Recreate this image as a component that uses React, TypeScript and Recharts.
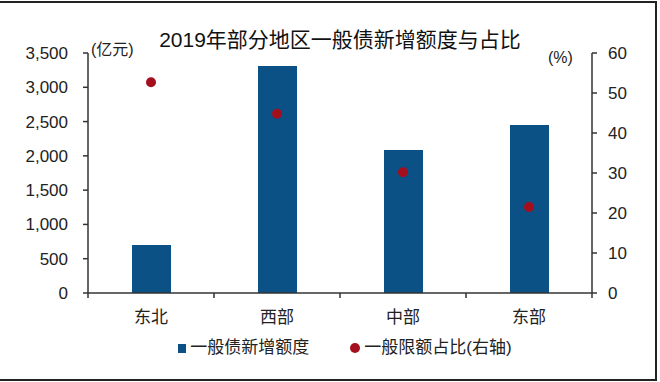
import React from "react";
import {
  ComposedChart,
  Bar,
  Line,
  XAxis,
  YAxis,
  Legend,
} from "recharts";

const regions = ["东北", "西部", "中部", "东部"];
const newQuota = [700, 3310, 2085, 2450];
const quotaShare = [52.7, 44.8, 30.2, 21.5];
const leftTicks = [0, 500, 1000, 1500, 2000, 2500, 3000, 3500];
const rightTicks = [0, 10, 20, 30, 40, 50, 60];

const data = regions.map((name, i) => ({
  name,
  quota: newQuota[i],
  share: quotaShare[i],
}));

const FONT = "'Liberation Sans', 'Noto Sans CJK SC', sans-serif";
const BAR = "#0b5186";
const DOT = "#a50e1c";
const AXIS = "#333";

const CatTick = (props: any) => {
  const { x, y, payload, index, visibleTicksCount } = props;
  const half = payload?.offset ?? 0;
  const last = index === visibleTicksCount - 1;
  return (
    <g>
      <line x1={x - half} x2={x - half} y1={y} y2={y + 5} stroke={AXIS} strokeWidth={1.5} />
      {last && (
        <line x1={x + half} x2={x + half} y1={y} y2={y + 5} stroke={AXIS} strokeWidth={1.5} />
      )}
      <text
        x={x}
        y={y + 24}
        textAnchor="middle"
        dominantBaseline="central"
        fontSize={17}
        fill="#222"
        fontFamily={FONT}
      >
        {payload.value}
      </text>
    </g>
  );
};

const LegendBox = () => (
  <div
    style={{
      display: "flex",
      justifyContent: "center",
      alignItems: "center",
      paddingLeft: 30,
      fontFamily: FONT,
      fontSize: 17,
      color: "#222",
      lineHeight: "24px",
    }}
  >
    <span style={{ width: 8, height: 9, background: BAR, marginRight: 4 }} />
    <span>一般债新增额度</span>
    <span
      style={{
        width: 10,
        height: 10,
        borderRadius: 5,
        background: DOT,
        marginLeft: 41,
        marginRight: 4,
      }}
    />
    <span>一般限额占比(右轴)</span>
  </div>
);

export default function App() {
  return (
    <div
      style={{
        position: "absolute",
        left: 0,
        top: 0,
        width: 660,
        height: 382,
        background: "#fff",
        overflow: "hidden",
      }}
    >
      <div
        style={{
          position: "absolute",
          left: -4,
          top: 1,
          width: 657,
          height: 376,
          border: "2px solid #222",
        }}
      />
      <div
        style={{
          position: "absolute",
          left: 10,
          top: 28,
          width: 660,
          textAlign: "center",
          fontFamily: FONT,
          fontSize: 21,
          lineHeight: "24px",
          color: "#111",
        }}
      >
        2019年部分地区一般债新增额度与占比
      </div>
      <div
        style={{
          position: "absolute",
          left: 91,
          top: 40,
          fontFamily: FONT,
          fontSize: 16,
          lineHeight: "20px",
          color: "#222",
        }}
      >
        (亿元)
      </div>
      <div
        style={{
          position: "absolute",
          left: 548,
          top: 48,
          fontFamily: FONT,
          fontSize: 16,
          lineHeight: "20px",
          color: "#222",
        }}
      >
        (%)
      </div>
      <ComposedChart
        width={660}
        height={382}
        data={data}
        margin={{ top: 53, right: 0, bottom: 0, left: 0 }}
      >
        <XAxis
          dataKey="name"
          height={89}
          tickSize={0}
          tickMargin={0}
          tickLine={false}
          axisLine={{ stroke: AXIS, strokeWidth: 1.5 }}
          tick={<CatTick />}
          interval={0}
        />
        <YAxis
          yAxisId="left"
          width={88}
          domain={[0, 3500]}
          ticks={leftTicks}
          tickFormatter={(v: number) => v.toLocaleString("en-US")}
          tickSize={5}
          tickMargin={15}
          axisLine={{ stroke: AXIS, strokeWidth: 1.5 }}
          tickLine={{ stroke: AXIS, strokeWidth: 1.5 }}
          tick={{ fontSize: 17, fill: "#222", fontFamily: FONT }}
        />
        <YAxis
          yAxisId="right"
          orientation="right"
          width={68}
          domain={[0, 60]}
          ticks={rightTicks}
          tickSize={5}
          tickMargin={11}
          axisLine={{ stroke: AXIS, strokeWidth: 1.5 }}
          tickLine={{ stroke: AXIS, strokeWidth: 1.5 }}
          tick={{ fontSize: 17, fill: "#222", fontFamily: FONT, textAnchor: "start" }}
        />
        <Legend
          verticalAlign="middle"
          align="center"
          layout="horizontal"
          wrapperStyle={{ top: 336, left: 0, width: 660 }}
          content={<LegendBox />}
        />
        <Bar
          yAxisId="left"
          dataKey="quota"
          name="一般债新增额度"
          fill={BAR}
          barSize={39}
          isAnimationActive={false}
        />
        <Line
          yAxisId="right"
          dataKey="share"
          name="一般限额占比(右轴)"
          stroke="none"
          dot={{ r: 5, fill: DOT, stroke: "none" }}
          activeDot={false}
          isAnimationActive={false}
        />
      </ComposedChart>
    </div>
  );
}
